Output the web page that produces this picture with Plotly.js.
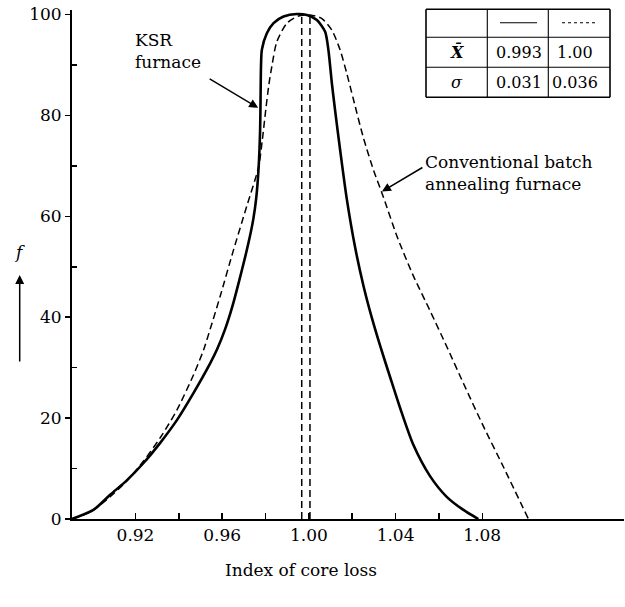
<!DOCTYPE html>
<html><head><meta charset="utf-8">
<script src="https://cdn.plot.ly/plotly-3.0.1.min.js"></script>
<style>html,body{margin:0;padding:0;background:#fff}#chart{width:625px;height:607px}</style>
</head><body><div id="chart"></div>
<script>
// KSR furnace distribution (solid)
const ksrX = [0.8907,0.9006,0.9083,0.9161,0.9237,0.9314,0.9391,0.9468,0.9545,0.9577,0.9614,0.9646,0.9683,0.9720,0.9743,0.9757,0.9768,0.9775,0.9777,0.9779,0.9783,0.9806,0.9837,0.9883,0.9945,0.9991,1.0037,1.0075,1.0090,1.0106,1.0121,1.0144,1.0175,1.0214,1.0252,1.0291,1.0329,1.0375,1.0421,1.0482,1.0559,1.0636,1.0713,1.0782];
const ksrY = [0,1.8,4.8,7.7,11.1,15.1,19.6,25.0,30.9,33.7,37.7,42.0,48.0,54.5,59.3,63.6,69.6,77.1,83.1,89.6,93.0,96.3,98.3,99.6,100.1,99.9,98.9,96.6,93.0,86.4,81.0,73.2,63.4,53.7,46.2,39.8,34.3,28.1,22.0,14.7,8.5,4.4,1.8,0];
// Conventional batch annealing furnace distribution (dashed)
const convX = [0.8907,0.8991,0.9083,0.9161,0.9237,0.9314,0.9391,0.9468,0.9514,0.9545,0.9591,0.9652,0.9714,0.9768,0.9785,0.9801,0.9815,0.9829,0.9852,0.9899,0.9952,1.0006,1.0060,1.0106,1.0144,1.0175,1.0206,1.0252,1.0298,1.0344,1.0406,1.0482,1.0560,1.0637,1.0713,1.0805,1.0898,1.1013];
const convY = [0,1.4,4.4,7.6,11.5,16.1,21.6,28.6,33.5,37.7,44.2,53.3,62.1,69.8,75.1,81.1,86.0,89.7,94.6,98.3,99.7,99.9,99.2,96.9,93.0,88.3,83.1,75.5,69.2,63.8,56.1,48.2,41.2,34.1,26.9,18.4,10.3,0];
// mean lines as drawn
const meanLineX = [0.9967, 1.0005];
const meanLineTop = 99.9;
// tick labels
const xTickVals = [0.92,0.96,1.00,1.04,1.08];
const xTickText = ['0.92','0.96','1.00','1.04','1.08'];
const xMinorVals = [0.94,0.98,1.02,1.06];
const yTickVals = [0,20,40,60,80,100];
const yMinorVals = [10,30,50,70,90];
// statistics table
const statLabels = ['<b><i>X\u0304</i></b>','<i>\u03c3</i>'];
const ksrStats = ['0.993','0.031'];
const convStats = ['1.00','0.036'];

const W=625,H=607,M={l:72,r:1,t:10,b:88};
const pw=W-M.l-M.r, ph=H-M.t-M.b;
const px=v=>(v-M.l)/pw, py=v=>(H-M.b-v)/ph;
const FONT='DejaVu Serif';

const traces=[
 {x:ksrX,y:ksrY,mode:'lines',line:{color:'#000',width:2.6,shape:'spline',smoothing:0.7},hoverinfo:'skip'},
 {x:convX,y:convY,mode:'lines',line:{color:'#000',width:1.5,dash:'7px,4px',shape:'spline',smoothing:0.7},hoverinfo:'skip'}
];
meanLineX.forEach(m=>traces.push({x:[m,m],y:[0,meanLineTop],mode:'lines',line:{color:'#000',width:1.5,dash:'7px,4px'},hoverinfo:'skip'}));

// table geometry (pixels)
const tx=[426,487.3,548.3,610], ty=[9.3,37.3,67.3,97.3];
const shapes=[];
const L=(x0,y0,x1,y1,w,dash)=>shapes.push({type:'line',xref:'paper',yref:'paper',x0:px(x0),y0:py(y0),x1:px(x1),y1:py(y1),line:{color:'#000',width:w,dash:dash||'solid'}});
tx.forEach((x,i)=>L(x,ty[0],x,ty[3],i===0||i===3?1.6:1.1));
ty.forEach((y,i)=>L(tx[0],y,tx[3],y,i===0||i===3?1.6:1.1));
L(500,22.7,537,22.7,1.1);
L(562,22.7,595,22.7,1.1,'dot');

const ann=[];
const rowY=[52.5,82.2];
statLabels.forEach((s,i)=>{
 ann.push({xref:'paper',yref:'paper',x:px(457),y:py(rowY[i]),text:s,showarrow:false,xanchor:'center',yanchor:'middle',font:{size:16}});
 ann.push({xref:'paper',yref:'paper',x:px(519),y:py(rowY[i]),text:ksrStats[i],showarrow:false,xanchor:'center',yanchor:'middle',font:{size:16}});
 ann.push({xref:'paper',yref:'paper',x:px(575),y:py(rowY[i]),text:convStats[i],showarrow:false,xanchor:'center',yanchor:'middle',font:{size:16}});
});
// labels
ann.push({xref:'paper',yref:'paper',x:px(133),y:py(51),text:'KSR<br>furnace',align:'left',showarrow:false,xanchor:'left',yanchor:'middle',font:{size:17}});
ann.push({x:0.9766,y:81.5,ax:-50,ay:-30,text:'',showarrow:true,arrowhead:2,arrowsize:1.2,arrowwidth:1.5,arrowcolor:'#000',standoff:0});
ann.push({xref:'paper',yref:'paper',x:px(423),y:py(173),text:'Conventional batch<br>annealing furnace',align:'left',showarrow:false,xanchor:'left',yanchor:'middle',font:{size:17}});
ann.push({x:1.0337,y:64.9,ax:42,ay:-25,text:'',showarrow:true,arrowhead:2,arrowsize:1.2,arrowwidth:1.5,arrowcolor:'#000',standoff:0});
ann.push({xref:'paper',yref:'paper',x:px(19.5),y:py(252),text:'<i>f</i>',showarrow:false,xanchor:'center',yanchor:'middle',font:{size:17}});
ann.push({xref:'paper',yref:'paper',x:px(19.7),y:py(275),ax:0,ay:88,text:'',showarrow:true,arrowhead:2,arrowsize:1.2,arrowwidth:1.5,arrowcolor:'#000',standoff:0});
ann.push({xref:'paper',yref:'paper',x:px(301),y:py(570),text:'Index of core loss',showarrow:false,xanchor:'center',yanchor:'middle',font:{size:17}});

const layout={
 width:W,height:H,margin:M,paper_bgcolor:'#fff',plot_bgcolor:'#fff',showlegend:false,hovermode:false,
 font:{family:FONT,color:'#000',size:17},
 xaxis:{range:[0.8907,1.1454],tickvals:xTickVals,ticktext:xTickText,ticks:'inside',ticklen:6,tickwidth:1.5,tickcolor:'#000',
   minor:{tickvals:xMinorVals,ticks:'inside',ticklen:6,tickwidth:1.5,tickcolor:'#000'},
   showline:true,linewidth:2,linecolor:'#000',showgrid:false,zeroline:false,tickfont:{size:17}},
 yaxis:{range:[0,100.9],tickvals:yTickVals,ticks:'outside',ticklen:5,tickwidth:1.5,tickcolor:'#000',
   minor:{tickvals:yMinorVals,ticks:'inside',ticklen:5,tickwidth:1.5,tickcolor:'#000'},
   showline:true,linewidth:2,linecolor:'#000',showgrid:false,zeroline:false,tickfont:{size:17}},
 shapes:shapes,annotations:ann
};
Plotly.newPlot('chart',traces,layout,{displayModeBar:false,staticPlot:true});
</script></body></html>
